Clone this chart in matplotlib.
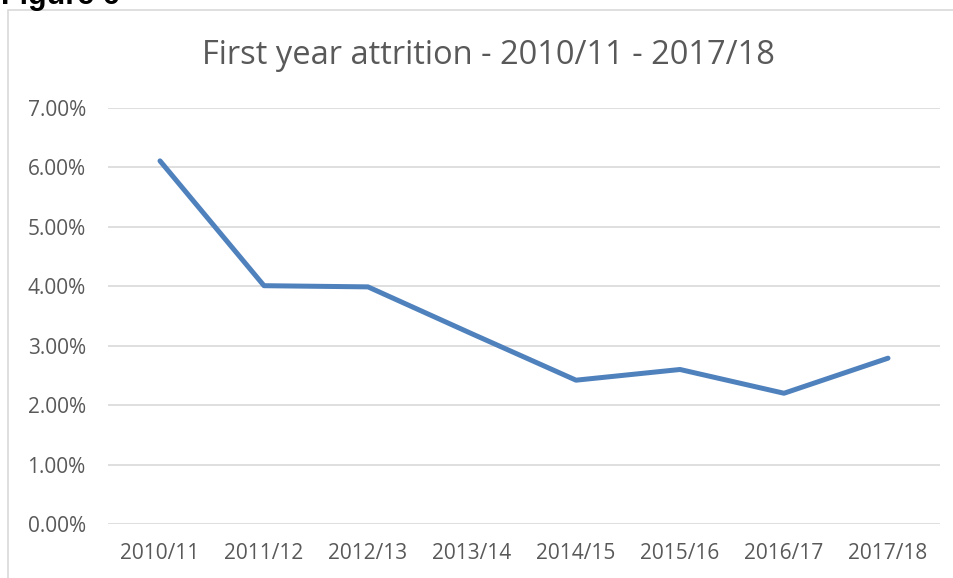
import matplotlib.pyplot as plt
from matplotlib.patches import Rectangle
from matplotlib.ticker import FuncFormatter

years = ["2010/11", "2011/12", "2012/13", "2013/14", "2014/15",
         "2015/16", "2016/17", "2017/18"]
attrition = [6.11, 4.01, 3.99, 3.20, 2.42, 2.60, 2.20, 2.79]  # percent
y_ticks = [0, 1, 2, 3, 4, 5, 6, 7]

text_col = "#595959"
grid_col = "#D9D9D9"
line_col = "#4F81BD"

plt.rcParams['font.family'] = ['Open Sans', 'DejaVu Sans']

fig = plt.figure(figsize=(9.54, 5.78), dpi=100)

# chart frame (runs off the right and bottom of the picture)
fig.patches.append(Rectangle((8 / 954, -0.1), 1.2, 1 - 10 / 578 + 0.1,
                             transform=fig.transFigure, fill=False,
                             edgecolor=grid_col, linewidth=1.2))
# heading sits mostly above the crop, as in the source page
fig.text(1 / 954, 1 - 4 / 578, "Figure 6", family="Liberation Sans",
         fontweight="bold", fontsize=22, color="black", va="baseline")

ax = fig.add_axes([108 / 954, 1 - 524 / 578, 832 / 954, 416 / 578])
x = range(len(years))
ax.plot(x, attrition, color=line_col, linewidth=3.6, solid_capstyle="round",
        solid_joinstyle="round", zorder=3)

ax.set_xlim(-0.5, len(years) - 0.5)
ax.set_ylim(0, 7)
ax.set_yticks(y_ticks)
ax.yaxis.set_major_formatter(FuncFormatter(lambda v, p: "{:.2f}%".format(v)))
ax.set_xticks(list(x))
ax.set_xticklabels(years)
ax.grid(axis="y", color=grid_col, linewidth=1.2)
ax.set_axisbelow(True)
for s in ax.spines.values():
    s.set_visible(False)
ax.tick_params(length=0, labelsize=15, labelcolor=text_col)
ax.tick_params(axis="y", pad=16)
ax.tick_params(axis="x", pad=14)

fig.text(488 / 954, 1 - 55 / 578, "First year attrition - 2010/11 - 2017/18",
         ha="center", va="center", fontsize=23.5, color=text_col)

fig.savefig("out.png", dpi=100)
